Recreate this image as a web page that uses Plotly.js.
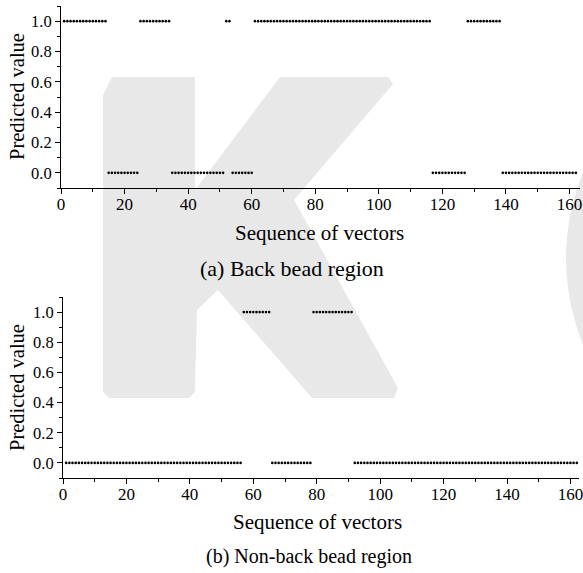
<!DOCTYPE html>
<html><head><meta charset="utf-8">
<script src="https://cdn.plot.ly/plotly-3.0.1.min.js"></script>
<style>html,body{margin:0;padding:0;background:#fff}</style>
</head><body><div id="chart" style="width:583px;height:573px"></div>
<script>
// ---- data (162 vectors) ----
const backBead = [
  1,1,1,1,1,1,1,1,1,1,
  1,1,1,1,0,0,0,0,0,0,
  0,0,0,0,1,1,1,1,1,1,
  1,1,1,1,0,0,0,0,0,0,
  0,0,0,0,0,0,0,0,0,0,
  0,1,1,0,0,0,0,0,0,0,
  1,1,1,1,1,1,1,1,1,1,
  1,1,1,1,1,1,1,1,1,1,
  1,1,1,1,1,1,1,1,1,1,
  1,1,1,1,1,1,1,1,1,1,
  1,1,1,1,1,1,1,1,1,1,
  1,1,1,1,1,1,0,0,0,0,
  0,0,0,0,0,0,0,1,1,1,
  1,1,1,1,1,1,1,1,0,0,
  0,0,0,0,0,0,0,0,0,0,
  0,0,0,0,0,0,0,0,0,0,
  0,0
];
const nonBackBead = [
  0,0,0,0,0,0,0,0,0,0,
  0,0,0,0,0,0,0,0,0,0,
  0,0,0,0,0,0,0,0,0,0,
  0,0,0,0,0,0,0,0,0,0,
  0,0,0,0,0,0,0,0,0,0,
  0,0,0,0,0,0,1,1,1,1,
  1,1,1,1,1,0,0,0,0,0,
  0,0,0,0,0,0,0,0,1,1,
  1,1,1,1,1,1,1,1,1,1,
  1,0,0,0,0,0,0,0,0,0,
  0,0,0,0,0,0,0,0,0,0,
  0,0,0,0,0,0,0,0,0,0,
  0,0,0,0,0,0,0,0,0,0,
  0,0,0,0,0,0,0,0,0,0,
  0,0,0,0,0,0,0,0,0,0,
  0,0,0,0,0,0,0,0,0,0,
  0,0
];
const sequenceIndex = backBead.map((_, i) => i + 1);
const xTickVals = [0, 20, 40, 60, 80, 100, 120, 140, 160];
const yTickVals = [0.0, 0.2, 0.4, 0.6, 0.8, 1.0];
const yTitle = 'Predicted value';
const xTitle = 'Sequence of vectors';
const captions = ['(a) Back bead region', '(b) Non-back bead region'];

// ---- layout helpers ----
const W = 583, H = 573;
const px = x => x / W;
const py = y => 1 - y / H;
const FONT = '"Liberation Serif", "Times New Roman", Times, serif';

const marker = {color: '#000', size: 2.6, symbol: 'circle'};
const traces = [
  {x: sequenceIndex, y: backBead, xaxis: 'x', yaxis: 'y', mode: 'markers', type: 'scatter', marker: marker, hoverinfo: 'skip'},
  {x: sequenceIndex, y: nonBackBead, xaxis: 'x2', yaxis: 'y2', mode: 'markers', type: 'scatter', marker: marker, hoverinfo: 'skip'}
];

function xAxis(d0, d1, xmax, anchor) {
  return {domain: [px(d0), px(d1)], anchor: anchor, range: [0, xmax],
    tickmode: 'array', tickvals: xTickVals, ticktext: xTickVals.map(String),
    ticks: 'outside', ticklen: 5, tickwidth: 1, tickcolor: '#000', ticklabelstandoff: -4,
    minor: {dtick: 10, tick0: 0, ticks: 'outside', ticklen: 3, tickwidth: 1, tickcolor: '#000', showgrid: false},
    showline: true, linecolor: '#000', linewidth: 1, mirror: false,
    showgrid: false, zeroline: false, fixedrange: true, ticklabeloverflow: 'allow',
    tickfont: {family: FONT, size: 17, color: '#000'}};
}
function yAxis(top, bottom, anchor) {
  return {domain: [py(bottom), py(top)], anchor: anchor, range: [-0.1, 1.1],
    tickmode: 'array', tickvals: yTickVals, ticktext: yTickVals.map(v => v.toFixed(1)),
    ticks: 'outside', ticklen: 5, tickwidth: 1, tickcolor: '#000',
    minor: {dtick: 0.1, tick0: 0, ticks: 'outside', ticklen: 3, tickwidth: 1, tickcolor: '#000', showgrid: false},
    showline: true, linecolor: '#000', linewidth: 1, mirror: false,
    showgrid: false, zeroline: false, fixedrange: true, ticklabeloverflow: 'allow',
    tickfont: {family: FONT, size: 16.5, color: '#000'}};
}

function poly(pts) {
  return 'M ' + pts.map(p => px(p[0]).toFixed(4) + ',' + py(p[1]).toFixed(4)).join(' L ') + ' Z';
}
const kPts = [[103,95],[112,77],[195,77],[195,190],[280,77],[388,77],[393,84],[294,200],
  [398,388],[394,398],[312,398],[218,290],[197,310],[195,392],[189,398],[109,398],[103,392]];
const cPath = 'M ' + px(583).toFixed(4) + ',' + py(172).toFixed(4) +
  ' Q ' + px(549).toFixed(4) + ',' + py(258).toFixed(4) + ' ' + px(583).toFixed(4) + ',' + py(345).toFixed(4) + ' Z';

const ann = (text, x, y, size, angle) => ({text: text, x: px(x), y: py(y), xref: 'paper', yref: 'paper',
  xanchor: 'center', yanchor: 'middle', showarrow: false, textangle: angle || 0,
  font: {family: FONT, size: size, color: '#000'}});

const layout = {
  width: W, height: H, margin: {l: 0, r: 0, t: 0, b: 0},
  paper_bgcolor: '#fff', plot_bgcolor: 'rgba(0,0,0,0)', showlegend: false,
  font: {family: FONT, color: '#000'},
  xaxis: xAxis(61, 580, 163.3, 'y'), yaxis: yAxis(6, 188, 'x'),
  xaxis2: xAxis(63, 579, 162.7, 'y2'), yaxis2: yAxis(297, 478, 'x2'),
  shapes: [
    {type: 'path', path: poly(kPts), xref: 'paper', yref: 'paper', fillcolor: '#e8e8e8', line: {width: 0}, layer: 'below'},
    {type: 'path', path: cPath, xref: 'paper', yref: 'paper', fillcolor: '#e8e8e8', line: {width: 0}, layer: 'below'}
  ],
  annotations: [
    ann(yTitle, 17, 97, 20.5, -90),
    ann(xTitle, 319, 233, 21),
    ann(captions[0], 292, 268, 22),
    ann(yTitle, 17, 388, 20.5, -90),
    ann(xTitle, 317, 522, 21),
    ann(captions[1], 309, 556, 20)
  ]
};
Plotly.newPlot('chart', traces, layout, {displayModeBar: false, staticPlot: true});
</script></body></html>
